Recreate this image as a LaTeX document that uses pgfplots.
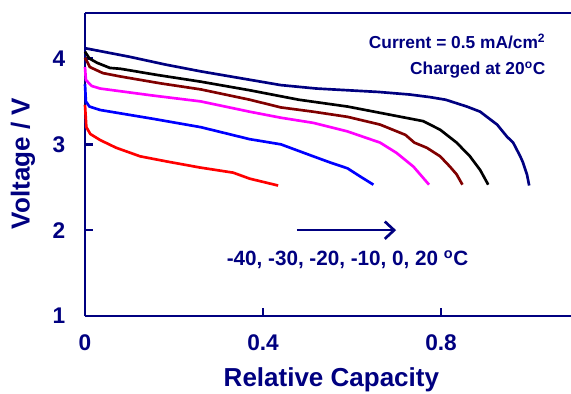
\documentclass[border=0pt]{standalone}
\usepackage{pgfplots}
\pgfplotsset{compat=1.18}
\usepackage{fontspec}
\setmainfont{Liberation Sans}
\usetikzlibrary{arrows.meta}
\definecolor{navy}{RGB}{0,0,128}
\definecolor{brown}{RGB}{128,0,0}
\definecolor{mag}{RGB}{255,0,255}
\definecolor{bl}{RGB}{0,0,255}
\definecolor{rd}{RGB}{255,0,0}
\begin{document}
\begin{tikzpicture}
\begin{axis}[
  scale only axis,
  width=364.5pt, height=227.25pt,
  xmin=0, xmax=1.092, ymin=1, ymax=4.53,
  axis x line=box, axis y line=left,
  axis line style={navy, line width=2.2pt, -},
  xtick={0,0.4,0.8}, ytick={1,2,3,4},
  xticklabels={0,0.4,0.8}, yticklabels={1,2,3,4},
  xtick pos=bottom, ytick pos=left,
  tick align=inside,
  major tick length=6pt,
  tick style={navy, line width=1.8pt},
  /pgf/number format/assume math mode=true,
  ticklabel style={font=\fontsize{17}{17}\selectfont\bfseries, text=navy},
  xticklabel style={anchor=center, yshift=-20pt},
  yticklabel style={anchor=center, xshift=-19.5pt},
  xlabel={Relative Capacity},
  ylabel={Voltage / V},
  label style={font=\fontsize{19.5}{19.5}\selectfont\bfseries, text=navy},
  xlabel style={at={(axis description cs:0.507,0)}, anchor=center, yshift=-48pt},
  ylabel style={at={(axis description cs:0,0.503)}, anchor=center, yshift=46.5pt},
  clip=false,
]
% 20 C
\addplot[navy, line width=2pt] coordinates {
(0,4.12)(0.05,4.07)(0.1,4.02)(0.18,3.93)(0.26,3.85)(0.35,3.77)(0.44,3.69)(0.52,3.65)(0.59,3.63)(0.66,3.61)(0.73,3.58)(0.775,3.55)(0.81,3.52)(0.858,3.44)(0.888,3.38)(0.903,3.32)(0.926,3.23)(0.948,3.09)(0.962,3.02)(0.978,2.86)(0.984,2.79)(0.993,2.65)(0.998,2.52)};
% 0 C
\addplot[black, line width=2pt] coordinates {
(0,4.08)(0.01,4.0)(0.027,3.95)(0.056,3.89)(0.08,3.88)(0.16,3.81)(0.26,3.73)(0.37,3.63)(0.44,3.56)(0.48,3.52)(0.59,3.44)(0.66,3.37)(0.76,3.27)(0.798,3.17)(0.835,3.02)(0.865,2.86)(0.888,2.70)(0.906,2.53)};
% -10 C
\addplot[brown, line width=2pt] coordinates {
(0,4.01)(0.011,3.9)(0.04,3.83)(0.08,3.79)(0.17,3.71)(0.26,3.64)(0.37,3.52)(0.44,3.43)(0.513,3.38)(0.59,3.32)(0.663,3.23)(0.72,3.11)(0.74,3.02)(0.768,2.96)(0.798,2.86)(0.82,2.74)(0.835,2.65)(0.848,2.53)};
% -20 C
\addplot[mag, line width=2pt] coordinates {
(0,3.9)(0.002,3.75)(0.015,3.68)(0.034,3.65)(0.15,3.57)(0.26,3.5)(0.37,3.38)(0.44,3.31)(0.513,3.25)(0.59,3.15)(0.663,3.02)(0.7,2.9)(0.738,2.74)(0.773,2.53)};
% -30 C
\addplot[bl, line width=2pt] coordinates {
(0,3.7)(0.002,3.5)(0.01,3.44)(0.034,3.4)(0.15,3.3)(0.26,3.2)(0.37,3.06)(0.44,3.0)(0.513,2.86)(0.55,2.79)(0.59,2.72)(0.62,2.62)(0.648,2.53)};
% -40 C
\addplot[rd, line width=2pt] coordinates {
(0,3.46)(0.003,3.2)(0.012,3.12)(0.034,3.05)(0.07,2.96)(0.124,2.86)(0.184,2.8)(0.258,2.73)(0.333,2.67)(0.37,2.6)(0.434,2.52)};
\draw[navy, line width=2pt, -{Straight Barb[length=7pt,width=13pt,line width=2pt]}] (axis cs:0.476,2.0) -- (axis cs:0.699,2.0);
\node[navy, font=\fontsize{15.5}{15.5}\selectfont\bfseries, anchor=center] at (axis cs:0.59,1.655) {-40, -30, -20, -10, 0, 20 \textsuperscript{o}C};
\node[navy, font=\fontsize{13}{13}\selectfont\bfseries, anchor=east] at (axis cs:1.045,4.2) {Current = 0.5 mA/cm\textsuperscript{2}};
\node[navy, font=\fontsize{13}{13}\selectfont\bfseries, anchor=east] at (axis cs:1.045,3.87) {Charged at 20\textsuperscript{o}C};
\coordinate (BL) at (rel axis cs:0,0);
\coordinate (TR) at (rel axis cs:1,1);
\end{axis}
\pgfresetboundingbox
\path ([shift={(-63.75pt,-57.75pt)}]BL) rectangle ([shift={(0pt,9.75pt)}]TR);
\end{tikzpicture}
\end{document}
